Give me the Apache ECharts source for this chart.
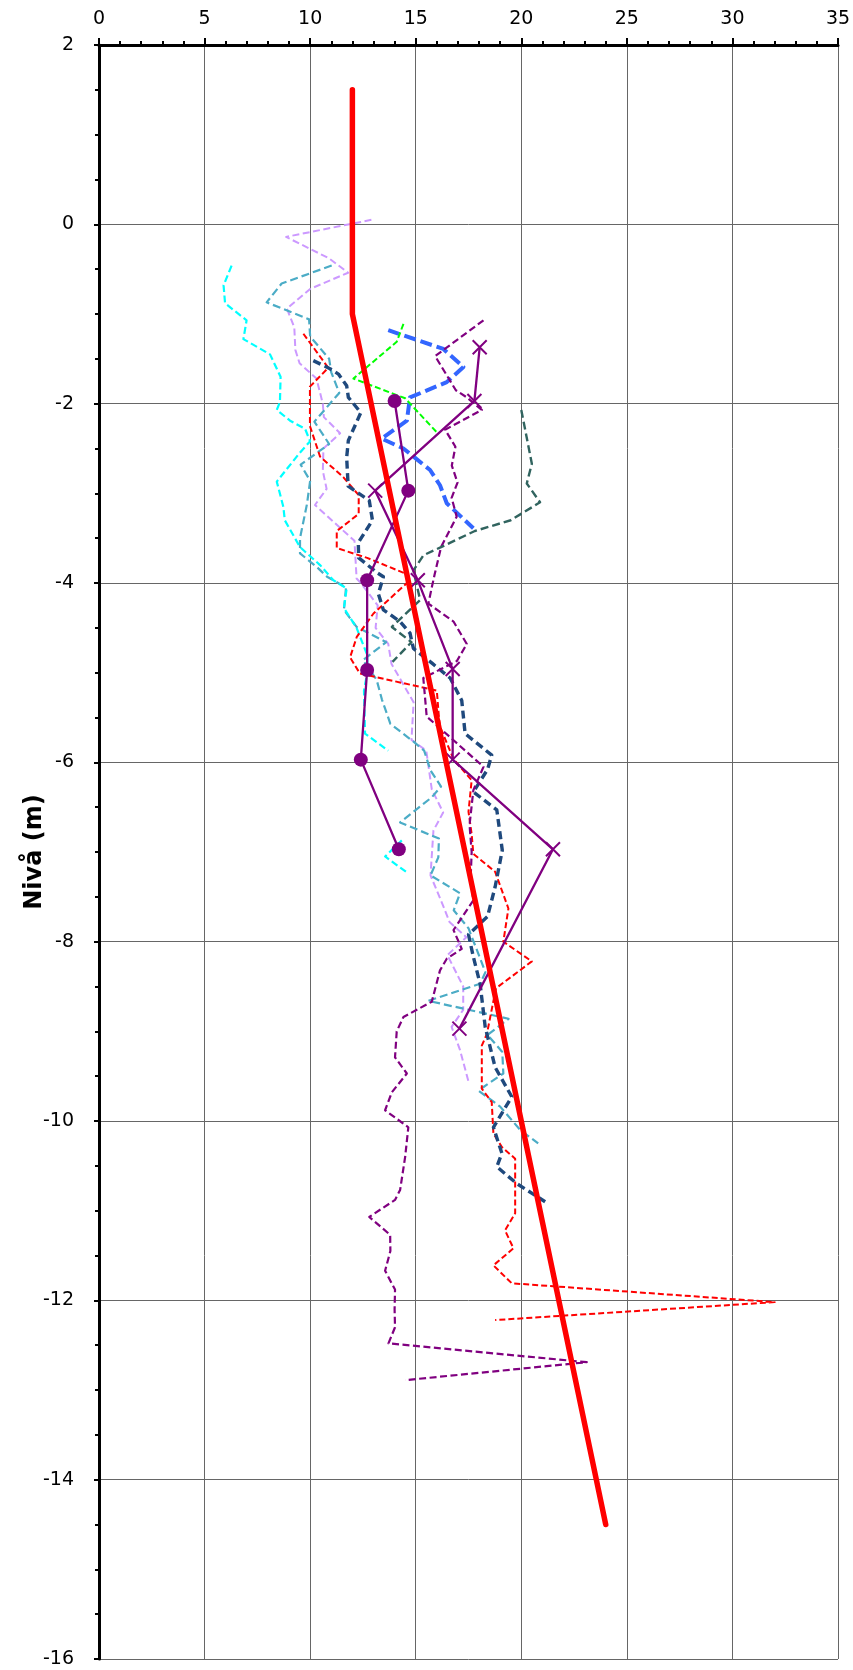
<!DOCTYPE html>
<html>
<head>
<meta charset="utf-8">
<script src="https://cdn.jsdelivr.net/npm/echarts@6/dist/echarts.min.js"></script>
<style>
html,body{margin:0;padding:0;background:#fff;}
#c{width:853px;height:1670px;}
</style>
</head>
<body>
<div id="c"></div>
<script>
// x ticks / y ticks
var xTicks = [0, 5, 10, 15, 20, 25, 30, 35];
var yTicks = [2, 0, -2, -4, -6, -8, -10, -12, -14, -16];

// Data series: [value, level]
var lavender = [[12.9,0.05],[8.86,-0.14],[10.9,-0.38],[11.8,-0.54],[10.0,-0.72],[8.9,-0.94],[9.25,-1.15],[9.3,-1.4],[9.5,-1.55],[10.3,-1.72],[10.6,-2.0],[10.65,-2.15],[11.42,-2.33],[10.63,-2.5],[10.6,-2.75],[10.78,-2.95],[10.23,-3.13],[12.1,-3.53],[12.2,-3.95],[12.4,-4.0],[13.2,-4.25],[13.1,-4.5],[13.7,-4.68],[13.85,-4.9],[14.9,-5.33],[14.8,-5.75],[15.5,-5.87],[15.76,-6.3],[16.3,-6.56],[15.84,-6.76],[15.7,-7.26],[16.3,-7.6],[16.6,-7.78],[17.4,-7.95],[16.5,-8.15],[17.25,-8.5],[17.25,-8.76],[16.7,-8.95],[17.1,-9.21],[17.5,-9.56]];
var teal = [[11.02,-0.46],[8.65,-0.66],[7.94,-0.87],[9.95,-1.06],[10.0,-1.25],[10.9,-1.5],[11.0,-1.65],[11.38,-1.88],[10.2,-2.2],[10.9,-2.45],[9.55,-2.68],[10.0,-2.86],[9.85,-3.12],[9.52,-3.5],[9.52,-3.67],[10.31,-3.82],[10.8,-3.93],[11.7,-4.05],[11.6,-4.3],[12.2,-4.49],[13.6,-4.66],[12.5,-4.86],[13.15,-5.08],[13.4,-5.3],[13.8,-5.57],[14.9,-5.77],[15.4,-5.87],[15.7,-6.09],[16.2,-6.27],[15.76,-6.39],[14.26,-6.67],[16.1,-6.85],[16.07,-7.06],[15.7,-7.26],[17.1,-7.46],[16.8,-7.65],[17.5,-7.85],[18.3,-8.34],[18.05,-8.47],[15.6,-8.66],[19.4,-8.86],[18.4,-9.04],[19.1,-9.23],[19.15,-9.47],[17.97,-9.66],[19.0,-9.84],[19.95,-10.1],[20.8,-10.25]];
var cyanA = [[6.28,-0.46],[5.9,-0.68],[5.97,-0.88],[6.99,-1.07],[6.84,-1.28],[8.1,-1.45],[8.6,-1.7],[8.57,-1.98],[8.42,-2.07],[9.05,-2.19],[9.76,-2.28],[10.0,-2.42],[9.5,-2.55],[8.42,-2.87],[8.73,-3.15],[8.8,-3.3],[9.52,-3.6],[10.47,-3.8],[11.1,-3.97],[11.73,-4.06],[11.6,-4.28],[12.2,-4.5],[12.7,-4.8],[12.72,-4.98],[12.55,-5.2],[12.6,-5.68],[13.7,-5.87]];
var cyanB = [[14.34,-6.87],[13.55,-7.05],[14.65,-7.24]];
var redThin = [[9.68,-1.22],[10.86,-1.6],[9.99,-1.81],[9.99,-2.25],[10.47,-2.59],[11.57,-2.82],[12.3,-3.02],[12.3,-3.23],[11.26,-3.42],[11.26,-3.61],[12.7,-3.72],[14.57,-3.9],[14.73,-3.97],[13.0,-4.34],[12.21,-4.6],[11.89,-4.83],[12.36,-5.01],[16.0,-5.2],[16.1,-5.5],[16.15,-5.6],[16.78,-5.96],[17.65,-6.2],[17.5,-6.55],[17.65,-6.8],[17.73,-7.02],[18.76,-7.22],[19.39,-7.63],[19.15,-8.0],[20.5,-8.22],[18.8,-8.52],[18.37,-9.03],[18.13,-9.16],[18.13,-9.64],[18.6,-9.79],[18.68,-10.14],[19.08,-10.29],[19.71,-10.42],[19.71,-11.03],[19.23,-11.22],[19.63,-11.42],[18.68,-11.61],[19.55,-11.81],[32.0,-12.02],[18.76,-12.22]];
var darkBlue = [[10.15,-1.52],[10.94,-1.61],[11.34,-1.67],[11.73,-1.8],[11.81,-1.93],[12.4,-2.1],[11.81,-2.41],[11.73,-2.6],[11.8,-2.92],[12.8,-3.08],[12.95,-3.3],[12.28,-3.55],[12.3,-3.72],[13.2,-3.89],[13.47,-3.93],[13.23,-4.12],[13.47,-4.3],[14.26,-4.43],[14.73,-4.56],[14.89,-4.73],[15.8,-4.9],[16.63,-5.06],[17.18,-5.31],[17.34,-5.68],[18.6,-5.92],[18.4,-6.08],[17.73,-6.33],[18.84,-6.53],[19.1,-6.98],[18.76,-7.39],[18.4,-7.72],[17.5,-7.92],[17.73,-8.17],[18.05,-8.47],[18.29,-8.95],[18.76,-9.4],[19.55,-9.73],[18.68,-10.07],[19.08,-10.36],[18.84,-10.51],[19.8,-10.7],[21.13,-10.9]];
var blue = [[13.7,-1.18],[16.31,-1.39],[17.26,-1.59],[16.47,-1.76],[14.73,-1.93],[14.58,-2.19],[13.39,-2.39],[14.42,-2.5],[15.68,-2.74],[16.15,-2.91],[16.47,-3.11],[17.73,-3.39]];
var green = [[14.42,-1.11],[14.1,-1.31],[12.05,-1.72],[14.5,-1.94],[16.0,-2.32]];
var purpleDash = [[18.21,-1.07],[15.92,-1.47],[16.9,-1.85],[17.42,-1.93],[18.13,-2.07],[16.39,-2.29],[16.88,-2.48],[16.71,-2.69],[16.98,-2.88],[16.7,-3.05],[16.94,-3.26],[16.2,-3.6],[15.9,-3.9],[15.76,-4.05],[15.6,-4.23],[16.79,-4.43],[17.42,-4.68],[16.95,-4.87],[15.36,-5.06],[15.52,-5.49],[16.63,-5.72],[18.21,-6.05],[17.73,-6.31],[17.55,-6.7],[17.65,-7.0],[17.6,-7.3],[17.73,-7.54],[16.79,-7.87],[17.18,-8.08],[16.47,-8.19],[16.15,-8.32],[15.76,-8.67],[14.42,-8.84],[14.1,-9.0],[14.02,-9.29],[14.58,-9.47],[13.87,-9.68],[13.55,-9.88],[14.65,-10.07],[14.5,-10.4],[14.26,-10.77],[14.02,-10.88],[12.8,-11.07],[13.79,-11.27],[13.8,-11.45],[13.55,-11.67],[14.02,-11.88],[14.0,-12.1],[14.02,-12.3],[13.71,-12.48],[23.1,-12.69],[14.5,-12.89]];
var slate = [[20.0,-2.07],[20.5,-2.67],[20.26,-2.89],[20.89,-3.1],[19.5,-3.3],[17.8,-3.42],[16.2,-3.6],[15.37,-3.69],[14.89,-3.86],[15.21,-4.19],[13.87,-4.49],[14.8,-4.66],[13.9,-4.88]];
var purpleCircle = [[14.0,-1.97],[14.65,-2.97],[12.7,-3.97],[12.7,-4.97],[12.4,-5.97],[14.2,-6.97]];
var purpleCross = [[18.03,-1.37],[17.78,-1.97],[13.08,-2.97],[15.1,-3.97],[16.75,-4.96],[16.75,-5.97],[21.5,-6.97],[17.07,-8.97]];
var redTrend = [[12,1.5],[12,-1],[24,-14.5]];

function dashed(name, data, color, width, dash) {
  return {
    name: name, type: 'line', data: data, symbol: 'none', silent: true,
    lineStyle: { color: color, width: width, type: dash, cap: 'butt', join: 'round' }
  };
}

var series = [
  dashed('lavender', lavender, '#cc99ff', 2, [7, 3.5]),
  dashed('teal', teal, '#4bacc6', 2.2, [8, 4]),
  dashed('cyanA', cyanA, '#00ffff', 2.2, [7, 3.5]),
  dashed('cyanB', cyanB, '#00ffff', 2.2, [7, 3.5]),
  dashed('redThin', redThin, '#ff0000', 2, [6, 3]),
  dashed('darkBlue', darkBlue, '#1f497d', 3.4, [8, 4.5]),
  dashed('blue', blue, '#3366ff', 4, [12, 5]),
  dashed('green', green, '#00ff00', 2, [6, 3]),
  dashed('purpleDash', purpleDash, '#800080', 2.2, [7, 3.5]),
  dashed('slate', slate, '#31645f', 2.4, [8, 4]),
  {
    name: 'purpleCircle', type: 'line', data: purpleCircle, silent: true,
    symbol: 'circle', symbolSize: 14,
    itemStyle: { color: '#800080' },
    lineStyle: { color: '#800080', width: 2.3 }
  },
  {
    name: 'purpleCross', type: 'line', data: purpleCross, silent: true,
    symbol: 'path://M0,0L10,10M10,0L0,10', symbolSize: 14,
    itemStyle: { color: 'rgba(0,0,0,0)', borderColor: '#800080', borderWidth: 2 },
    lineStyle: { color: '#800080', width: 2.3 }
  },
  {
    name: 'redTrend', type: 'line', data: redTrend, symbol: 'none', silent: true, z: 5,
    lineStyle: { color: '#ff0000', width: 5.5, cap: 'round', join: 'round' }
  }
];

var chart = echarts.init(document.getElementById('c'), null, { renderer: 'canvas' });
chart.setOption({
  animation: false,
  backgroundColor: '#ffffff',
  grid: { left: 99, right: 15, top: 45, bottom: 11, outerBoundsMode: 'none' },
  xAxis: {
    type: 'value', position: 'top', min: xTicks[0], max: xTicks[xTicks.length - 1], interval: 5,
    axisLine: { show: true, onZero: false, lineStyle: { color: '#000', width: 3 } },
    axisTick: { show: true, length: 7, lineStyle: { color: '#000', width: 2 } },
    minorTick: { show: true, splitNumber: 5, length: 4, lineStyle: { color: '#000', width: 2 } },
    axisLabel: { color: '#000', fontSize: 19, fontFamily: 'DejaVu Sans', margin: 16 },
    splitLine: { show: true, lineStyle: { color: '#666666', width: 1 } }
  },
  yAxis: {
    type: 'value', min: yTicks[yTicks.length - 1], max: yTicks[0], interval: 2,
    name: 'Nivå (m)', nameLocation: 'middle', nameGap: 52, nameMoveOverlap: false,
    nameTextStyle: { color: '#000', fontSize: 24, fontWeight: 'bold', fontFamily: 'DejaVu Sans' },
    axisLine: { show: true, onZero: false, lineStyle: { color: '#000', width: 3 } },
    axisTick: { show: true, length: 5, lineStyle: { color: '#000', width: 2 } },
    minorTick: { show: true, splitNumber: 4, length: 4, lineStyle: { color: '#000', width: 2 } },
    axisLabel: { color: '#000', fontSize: 19, fontFamily: 'DejaVu Sans', margin: 25 },
    splitLine: { show: true, lineStyle: { color: '#666666', width: 1 } }
  },
  series: series
});
</script>
</body>
</html>
